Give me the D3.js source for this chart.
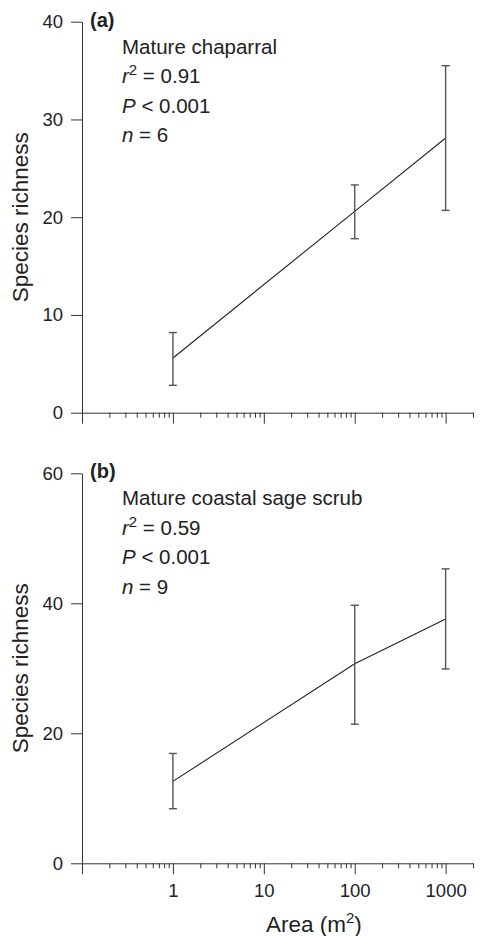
<!DOCTYPE html>
<html>
<head>
<meta charset="utf-8">
<script src="https://cdn.jsdelivr.net/npm/d3@7"></script>
<style>
  body { margin: 0; background: #fff; }
  text { font-family: "Liberation Sans", Arial, sans-serif; fill: #222; }
</style>
</head>
<body>
<script>
// data
const areas = [1, 100, 1000];
const chapMean = [5.6, 20.6, 28.1];
const chapLow = [2.8, 17.8, 20.7];
const chapHigh = [8.2, 23.3, 35.5];
const sageMean = [12.6, 30.7, 37.6];
const sageLow = [8.4, 21.4, 29.9];
const sageHigh = [16.9, 39.7, 45.3];

const xMajor = [0.1, 1, 10, 100, 1000];
const xMajorLabels = ["", "1", "10", "100", "1000"];
const chapYTicks = [0, 10, 20, 30, 40];
const sageYTicks = [0, 20, 40, 60];

const chapNotes = ["Mature chaparral", "r|2| = 0.91", "P| < 0.001", "n| = 6"];
const sageNotes = ["Mature coastal sage scrub", "r|2| = 0.59", "P| < 0.001", "n| = 9"];

const width = 492;
const height = 936;

const svg = d3.select('body')
  .append('svg')
  .attr('width', width)
  .attr('height', height);

const x = d3.scaleLog().domain([0.1, 2000]).range([82, 473]);

// minor ticks 2..9 per decade plus the 2000 end tick
let xMinor = [];
[0.1, 1, 10, 100].forEach(d => {
  for (let k = 2; k <= 9; k++) xMinor.push(+(d * k).toPrecision(3));
});
xMinor.push(2000);

function panel(opt) {
  const y = d3.scaleLinear().domain([0, opt.yMax]).range([opt.y0, opt.yTop]);
  const g = svg.append('g');

  // y axis
  g.append('g')
    .attr('transform', `translate(${x(0.1)},0)`)
    .call(d3.axisLeft(y).tickValues(opt.yTicks).tickSize(11).tickSizeOuter(0).tickPadding(8))
    .call(a => a.selectAll('text').style('font-size', '18.5px'))
    .call(a => a.selectAll('line,path').attr('stroke', '#333'));

  // x axis, minor then major ticks
  g.append('g')
    .attr('transform', `translate(0,${opt.y0})`)
    .call(d3.axisBottom(x).tickValues(xMinor).tickSize(5).tickSizeOuter(0).tickFormat(''))
    .call(a => a.selectAll('line,path').attr('stroke', '#333'));
  g.append('g')
    .attr('transform', `translate(0,${opt.y0})`)
    .call(d3.axisBottom(x).tickValues(xMajor).tickSize(11).tickSizeOuter(0).tickPadding(10)
      .tickFormat((d, i) => opt.showX ? xMajorLabels[i] : ''))
    .call(a => a.select('.domain').remove())
    .call(a => a.selectAll('text').style('font-size', '18.5px'))
    .call(a => a.selectAll('line').attr('stroke', '#333'));

  // y title
  g.append('text')
    .attr('transform', `translate(27.5,${(opt.y0 + opt.yTop) / 2}) rotate(-90)`)
    .attr('text-anchor', 'middle')
    .style('font-size', '22.5px')
    .text('Species richness');

  // panel letter
  g.append('text')
    .attr('x', 90).attr('y', opt.yTop + 5)
    .style('font-size', '20px').style('font-weight', 'bold')
    .text(opt.letter);

  // notes
  opt.notes.forEach((s, i) => {
    const t = g.append('text')
      .attr('x', 122).attr('y', opt.yTop + 32 + i * 29.5)
      .style('font-size', '20.5px');
    const parts = s.split('|');
    if (parts.length === 1) { t.text(s); return; }
    t.append('tspan').style('font-style', 'italic').text(parts[0]);
    if (parts.length === 3) {
      t.append('tspan').attr('dy', -8).style('font-size', '15px').text(parts[1]);
      t.append('tspan').attr('dy', 8).text(parts[2]);
    } else {
      t.append('tspan').text(parts[1]);
    }
  });

  // line through the means
  const rows = areas.map((a, i) => ({ a: a, m: opt.mean[i], lo: opt.low[i], hi: opt.high[i] }));
  g.append('path')
    .datum(rows)
    .attr('fill', 'none')
    .attr('stroke', '#222')
    .attr('stroke-width', 1.1)
    .attr('d', d3.line().x(d => x(d.a)).y(d => y(d.m)));

  // error bars
  const eb = g.selectAll('.eb').data(rows).enter().append('g').attr('class', 'eb')
    .attr('stroke', '#555').attr('stroke-width', 1.4);
  eb.append('line')
    .attr('x1', d => x(d.a)).attr('x2', d => x(d.a))
    .attr('y1', d => y(d.lo)).attr('y2', d => y(d.hi));
  eb.append('line')
    .attr('x1', d => x(d.a) - 4).attr('x2', d => x(d.a) + 4)
    .attr('y1', d => y(d.hi)).attr('y2', d => y(d.hi));
  eb.append('line')
    .attr('x1', d => x(d.a) - 4).attr('x2', d => x(d.a) + 4)
    .attr('y1', d => y(d.lo)).attr('y2', d => y(d.lo));
}

panel({ yMax: 40, y0: 412.7, yTop: 21.7, yTicks: chapYTicks, letter: '(a)', notes: chapNotes,
  mean: chapMean, low: chapLow, high: chapHigh, showX: false });
panel({ yMax: 60, y0: 863.3, yTop: 473.3, yTicks: sageYTicks, letter: '(b)', notes: sageNotes,
  mean: sageMean, low: sageLow, high: sageHigh, showX: true });

// x title
const xt = svg.append('text')
  .attr('x', x(10) + 50).attr('y', 932)
  .attr('text-anchor', 'middle')
  .style('font-size', '22.5px');
xt.append('tspan').text('Area (m');
xt.append('tspan').attr('dy', -9).style('font-size', '15px').text('2');
xt.append('tspan').attr('dy', 9).text(')');
</script>
</body>
</html>
